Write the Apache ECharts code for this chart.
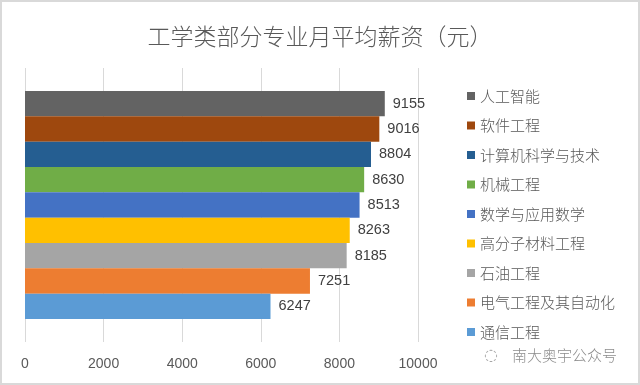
<!DOCTYPE html>
<html><head><meta charset="utf-8">
<script src="https://cdn.jsdelivr.net/npm/echarts@6/dist/echarts.min.js"></script>
<style>html,body{margin:0;padding:0;background:#fff}#c{width:640px;height:385px}</style>
</head><body><div id="c"></div>
<script>
const majors = ['人工智能','软件工程','计算机科学与技术','机械工程','数学与应用数学','高分子材料工程','石油工程','电气工程及其自动化','通信工程'];
const salaries = [9155, 9016, 8804, 8630, 8513, 8263, 8185, 7251, 6247];
const colors = ['#636363','#9e480e','#255e91','#70ad47','#4472c4','#ffc000','#a5a5a5','#ed7d31','#5b9bd5'];
const xTicks = [0, 2000, 4000, 6000, 8000, 10000];

const chart = echarts.init(document.getElementById('c'));
chart.setOption({
  animation: false,
  title: {
    text: '工学类部分专业月平均薪资（元）',
    left: 'center', top: 20,
    textStyle: {fontFamily: 'Noto Sans CJK SC', fontWeight: 300, fontSize: 23, color: '#595959'}
  },
  graphic: [
    {type: 'rect', shape: {x: 1, y: 1, width: 638, height: 383}, style: {fill: 'none', stroke: '#d9d9d9', lineWidth: 2}, silent: true},
    {type: 'text', left: 484, top: 348, style: {text: '◌', fill: '#a6a6a6', font: '16px "DejaVu Sans"'}},
    {type: 'text', left: 512, top: 348, style: {text: '南大奥宇公众号', fill: '#8c8c8c', font: '300 15px "Noto Sans CJK SC"'}}
  ],
  legend: {
    orient: 'vertical', left: 462, top: 83,
    itemWidth: 8, itemHeight: 8, itemGap: 13.5,
    icon: 'rect',
    textStyle: {fontFamily: 'Noto Sans CJK SC', fontWeight: 300, fontSize: 15, lineHeight: 16, color: '#595959'},
    data: majors
  },
  grid: {left: 25, right: 222, top: 68, bottom: 43, containLabel: false},
  xAxis: {
    type: 'value', min: xTicks[0], max: xTicks[xTicks.length-1], interval: 2000,
    axisLine: {show: false}, axisTick: {show: false},
    splitLine: {lineStyle: {color: '#d9d9d9'}},
    axisLabel: {color: '#595959', fontSize: 14, fontFamily: 'Liberation Sans', margin: 15, formatter: v => String(v)}
  },
  yAxis: {
    type: 'category', data: [''], inverse: true,
    axisLine: {show: false}, axisTick: {show: false}, axisLabel: {show: false}
  },
  series: majors.map((m, i) => ({
    name: m, type: 'bar', data: [salaries[i]],
    barGap: '0%', barCategoryGap: '16.8%',
    itemStyle: {color: colors[i]},
    label: {show: true, position: 'right', distance: 8, color: '#404040', fontSize: 14.5, fontFamily: 'Liberation Sans'}
  }))
});
</script></body></html>
